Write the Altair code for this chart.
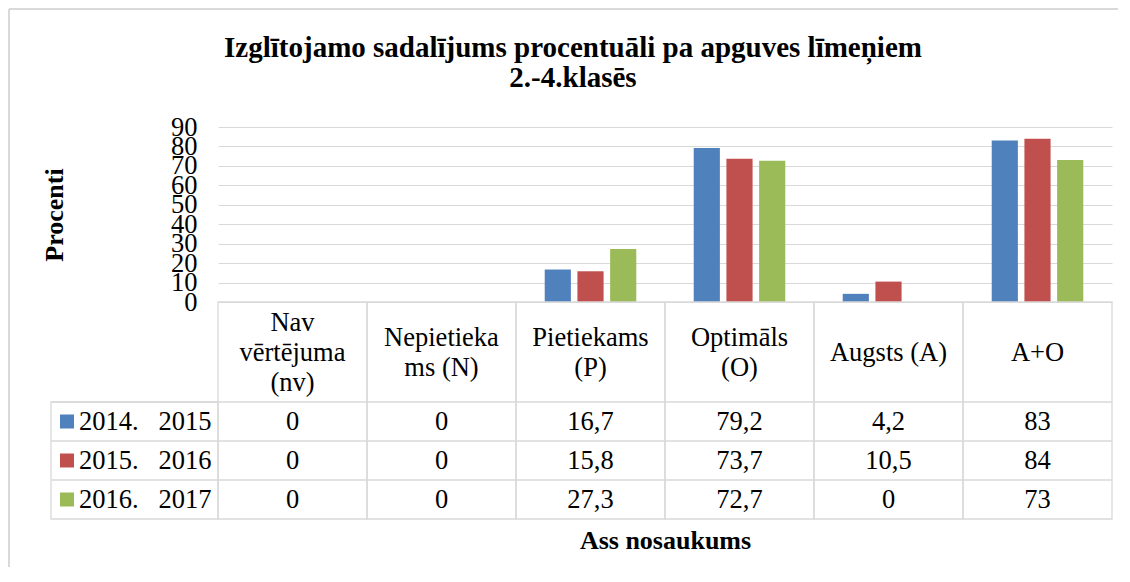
import altair as alt
import pandas as pd

# ---------------- data ----------------
categories = ["Nav\nvērtējuma\n(nv)", "Nepietieka\nms (N)", "Pietiekams\n(P)",
              "Optimāls\n(O)", "Augsts (A)", "A+O"]
series = ["2014.\u00a0\u00a0\u00a02015", "2015.\u00a0\u00a0\u00a02016", "2016.\u00a0\u00a0\u00a02017"]
values_2014_2015 = [0, 0, 16.7, 79.2, 4.2, 83]
values_2015_2016 = [0, 0, 15.8, 73.7, 10.5, 84]
values_2016_2017 = [0, 0, 27.3, 72.7, 0, 73]
colors = ["#4F81BD", "#C0504D", "#9BBB59"]
y_ticks = [0, 10, 20, 30, 40, 50, 60, 70, 80, 90]
title_lines = ["Izglītojamo sadalījums procentuāli pa apguves līmeņiem", "2.-4.klasēs"]
y_title = "Procenti"
x_title = "Ass nosaukums"

FONT = "Liberation Serif, Times New Roman, Tinos, serif"
GRAY = "#d9d9d9"
W, H = 894, 175
FS = 26.5

rows = []
for s, vals in zip(series, [values_2014_2015, values_2015_2016, values_2016_2017]):
    for c, v in zip(categories, vals):
        rows.append({"Kategorija": c, "Sērija": s, "Vērtība": v,
                     "Teksts": f"{v:g}".replace(".", ",")})
df = pd.DataFrame(rows)
cat_df = pd.DataFrame({"Kategorija": categories,
                       "Rindas": [c.count("\n") + 1 for c in categories]})
ser_df = pd.DataFrame({"Sērija": series})
one = pd.DataFrame({"k": [0]})

x_axis = alt.Axis(labels=False, ticks=False, domain=False, grid=False,
                  title=x_title, titleFont=FONT, titleFontSize=26, titleFontWeight="bold",
                  titleColor="black", titleX=W / 2, titleY=246, titleBaseline="alphabetic",
                  titleAlign="center")
X = alt.X("Kategorija:N", sort=categories,
          scale=alt.Scale(domain=categories, paddingInner=0, paddingOuter=0),
          axis=x_axis)
row_scale = alt.Scale(type="point", domain=series, range=[294.5, 372.5], padding=0)
color = alt.Color("Sērija:N", scale=alt.Scale(domain=series, range=colors), legend=None)

y_axis = alt.Axis(values=y_ticks, domain=False, ticks=False, grid=True,
                  gridColor=GRAY, gridWidth=1, labelFont=FONT, labelFontSize=FS,
                  labelColor="black", labelPadding=21, labelOverlap=False, labelFlush=False,
                  title=y_title, titleFont=FONT, titleFontSize=26, titleFontWeight="bold",
                  titleColor="black", titleAngle=270, titleX=-156, titleY=H / 2,
                  titleAlign="center", titleBaseline="alphabetic")

bars = alt.Chart(df).mark_bar().encode(
    x=X,
    xOffset=alt.XOffset("Sērija:N", sort=series,
                        scale=alt.Scale(domain=series, paddingInner=0.2, paddingOuter=0.878)),
    y=alt.Y("Vērtība:Q", scale=alt.Scale(domain=[0, 90], nice=False), axis=y_axis),
    color=color,
)

# table cell borders (one column per category)
cells = alt.Chart(cat_df).mark_rect(fill="white", fillOpacity=0, stroke=GRAY, strokeWidth=1.3).encode(
    x=X, y=alt.value(H), y2=alt.value(392))
left_col = alt.Chart(one).mark_rect(fill="white", fillOpacity=0, stroke=GRAY, strokeWidth=1.3).encode(
    x=alt.value(-167), x2=alt.value(0), y=alt.value(275), y2=alt.value(392))


def hline(y):
    return alt.Chart(one).mark_rule(color=GRAY, strokeWidth=1.3).encode(
        x=alt.value(-167), x2=alt.value(W), y=alt.value(y))


frame_left = alt.Chart(one).mark_rule(color=GRAY, strokeWidth=2).encode(
    x=alt.value(-209), y=alt.value(-118), y2=alt.value(440))
frame_top = alt.Chart(one).mark_rule(color=GRAY, strokeWidth=2).encode(
    x=alt.value(-209), x2=alt.value(900), y=alt.value(-118))


def header(n_lines):
    # header cell text, block vertically centred in the header row
    return alt.Chart(cat_df).transform_filter(
        alt.datum.Rindas == n_lines
    ).mark_text(lineBreak="\n", font=FONT, fontSize=FS, color="black",
                baseline="middle", lineHeight=30).encode(
        x=X, y=alt.value(225.5 - (n_lines - 1) * 15), text="Kategorija:N")


cell_text = alt.Chart(df).mark_text(font=FONT, fontSize=FS, color="black", baseline="middle").encode(
    x=X, y=alt.Y("Sērija:N", scale=row_scale, axis=None), text="Teksts:N")

ser_text = alt.Chart(ser_df).mark_text(font=FONT, fontSize=FS, color="black", baseline="middle",
                                       align="left").encode(
    x=alt.value(-139), y=alt.Y("Sērija:N", scale=row_scale, axis=None), text="Sērija:N")

ser_sq = alt.Chart(ser_df).mark_square(size=196, opacity=1).encode(
    x=alt.value(-151), y=alt.Y("Sērija:N", scale=row_scale, axis=None), color=color)

chart = alt.layer(
    frame_left, frame_top, bars, cells, left_col, hline(275), hline(314), hline(353),
    header(1), header(2), header(3), cell_text, ser_text, ser_sq,
).resolve_scale(y="independent").properties(
    width=W, height=H,
    autosize=alt.AutoSizeParams(type="none"),
    padding={"left": 210, "top": 119, "right": 10, "bottom": 272},
    background="white",
    title=alt.TitleParams(text=title_lines, font=FONT, fontSize=29, fontWeight="bold",
                          color="black", anchor="middle", frame="group", dx=-92, dy=108,
                          lineHeight=30, baseline="alphabetic", offset=0),
).configure_view(stroke="transparent")

chart.save("out.html", embed_options={"renderer": "svg", "actions": False})
